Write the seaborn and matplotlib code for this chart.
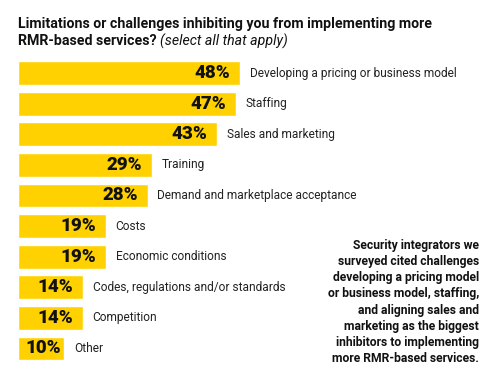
import matplotlib
matplotlib.use("Agg")
import matplotlib.pyplot as plt
import seaborn as sns

categories = [
    "Developing a pricing or business model",
    "Staffing",
    "Sales and marketing",
    "Training",
    "Demand and marketplace acceptance",
    "Costs",
    "Economic conditions",
    "Codes, regulations and/or standards",
    "Competition",
    "Other",
]
values = [48, 47, 43, 29, 28, 19, 19, 14, 14, 10]

title_line1 = "Limitations or challenges inhibiting you from implementing more"
title_bold2 = "RMR-based services?"
title_italic2 = "(select all that apply)"
note = ("Security integrators we\nsurveyed cited challenges\ndeveloping a pricing model\n"
        "or business model, staffing,\nand aligning sales and\nmarketing as the biggest\n"
        "inhibitors to implementing\nmore RMR-based services.")

sns.set_style("white")
plt.rcParams['font.family'] = ['Roboto', 'DejaVu Sans']

W, H = 500, 372
fig = plt.figure(figsize=(W / 100, H / 100), dpi=100)
# axes: left edge of bars at x=18px, rows from y=57.7 to y=363.8 px
ax = fig.add_axes([18 / W, 1 - 363.8 / H, 482 / W, 306.1 / H])

sns.barplot(x=values, y=categories, orient='h', color='#FFD100',
            width=0.78, saturation=1, ax=ax)
ax.set_xlim(0, 482 / 4.63)
ax.set_ylim(9.5, -0.5)
ax.axis('off')

for i, (cat, v) in enumerate(zip(categories, values)):
    # short bars get a tighter inset so the label stays inside
    inset = -7 if v > 12 else -2.5
    ax.annotate(f"{v}%", (v, i), xytext=(inset, 0), textcoords='offset points',
                ha='right', va='center', fontsize=13.5, fontweight='black',
                color='#111111')
    ax.annotate(cat, (v, i), xytext=(7, 0), textcoords='offset points',
                ha='left', va='center', fontsize=8.6, color='#222222')

# title
t1 = fig.text(18 / W, 1 - 24 / H, title_line1, ha='left', va='center',
              fontsize=10.2, fontweight='bold', color='#111111')
t2 = fig.text(18 / W, 1 - 41 / H, title_bold2 + " ", ha='left', va='center',
              fontsize=10.2, fontweight='bold', color='#111111')
fig.canvas.draw()
bb = t2.get_window_extent(renderer=fig.canvas.get_renderer())
fig.text(bb.x1 / W, 1 - 41 / H, title_italic2, ha='left', va='center',
         fontsize=10.2, style='italic', color='#111111')

fig.text(479 / W, 1 - 302 / H, note, ha='right', va='center', fontsize=8.7,
         fontweight='bold', color='#111111', linespacing=1.32)

fig.savefig("out.png", dpi=100)
